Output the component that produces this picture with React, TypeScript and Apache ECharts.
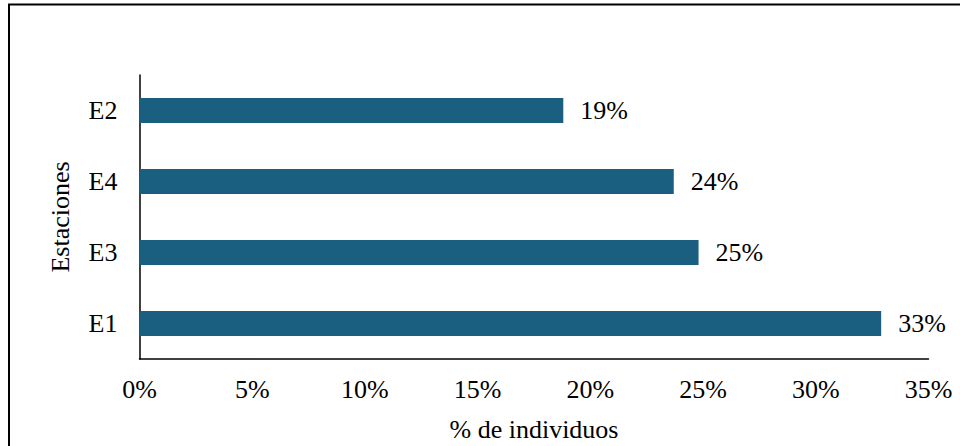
import React, { useEffect, useRef } from "react";
import * as echarts from "echarts";

const categories = ["E1", "E3", "E4", "E2"];
const values = [32.9, 24.8, 23.7, 18.8];
const tickMax = 35;
const tickStep = 5;
const xAxisName = "% de individuos";
const yAxisName = "Estaciones";

const FONT = "'Liberation Serif', 'Times New Roman', serif";

export default function App() {
  const ref = useRef<HTMLDivElement>(null);
  useEffect(() => {
    if (!ref.current) return;
    const chart = echarts.init(ref.current, null, { renderer: "svg" });
    chart.setOption({
      animation: false,
      backgroundColor: "#ffffff",
      grid: {
        left: 139.5,
        right: 31.5,
        top: 75,
        bottom: 87,
        containLabel: false,
        outerBoundsMode: "none",
      },
      xAxis: {
        type: "value",
        min: 0,
        max: tickMax,
        interval: tickStep,
        name: xAxisName,
        nameLocation: "middle",
        nameGap: 57,
        nameTextStyle: { fontFamily: FONT, fontSize: 26, color: "#000" },
        axisLine: { show: true, lineStyle: { color: "#000", width: 1.5 } },
        axisTick: { show: false },
        splitLine: { show: false },
        axisLabel: {
          fontFamily: FONT,
          fontSize: 26,
          color: "#000",
          margin: 17,
          formatter: (v: number) => `${v}%`,
        },
      },
      yAxis: {
        type: "category",
        data: categories,
        name: yAxisName,
        nameLocation: "middle",
        nameGap: 66,
        nameRotate: 90,
        nameTextStyle: { fontFamily: FONT, fontSize: 26, color: "#000" },
        axisLine: { show: true, lineStyle: { color: "#000", width: 1.5 } },
        axisTick: { show: false },
        axisLabel: { fontFamily: FONT, fontSize: 26, color: "#000", margin: 22 },
      },
      series: [
        {
          type: "bar",
          data: values,
          barWidth: 25,
          itemStyle: { color: "#1a5f80" },
          label: {
            show: true,
            position: "right",
            distance: 17,
            fontFamily: FONT,
            fontSize: 26,
            color: "#000",
            formatter: (p: any) => `${Math.round(p.value)}%`,
          },
        },
      ],
      graphic: [
        {
          type: "line",
          shape: { x1: 8, y1: 4.5, x2: 960, y2: 4.5 },
          style: { stroke: "#000", lineWidth: 2 },
        },
        {
          type: "line",
          shape: { x1: 9, y1: 4, x2: 9, y2: 446 },
          style: { stroke: "#000", lineWidth: 2 },
        },
      ],
    });
    return () => chart.dispose();
  }, []);
  return <div ref={ref} style={{ width: 960, height: 446, position: "absolute", left: 0, top: 0 }} />;
}
